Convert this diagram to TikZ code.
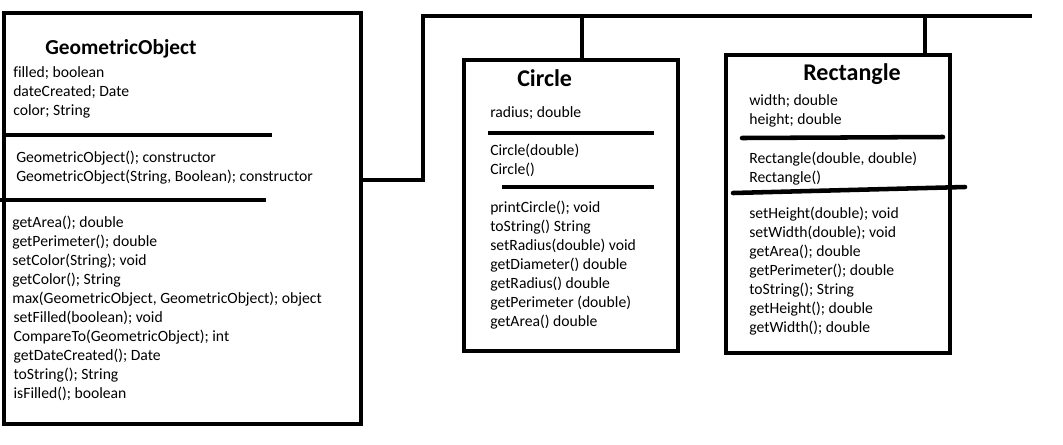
\documentclass[tikz,border=0pt]{standalone}
\usepackage{fontspec}
\setmainfont{Carlito}[Ligatures=CommonOff]
\usetikzlibrary{fit}
\tikzset{
  box/.style={draw, line width=3.4pt, inner sep=0pt},
  sepline/.style={line width=3.4pt},
  roundsep/.style={line width=3.4pt, line cap=round},
  conn/.style={line width=3.4pt},
  txt/.style={anchor=base west, inner sep=0pt, font=\fontsize{11.75}{14.25}\selectfont},
  ttl/.style={anchor=base west, inner sep=0pt, font=\fontsize{#1}{#1}\selectfont\bfseries},
}
\newcommand{\lines}[1]{\begin{tabular}[t]{@{}l@{}}#1\end{tabular}}
\begin{document}
\begin{tikzpicture}[x=0.75pt,y=-0.75pt]
\useasboundingbox (0,0) rectangle (1063,444);
% boxes
\coordinate (go-nw) at (4,13);   \coordinate (go-se) at (361,424);
\coordinate (ci-nw) at (464,60); \coordinate (ci-se) at (678,351);
\coordinate (re-nw) at (726,55); \coordinate (re-se) at (950,353);
\node[box, fit=(go-nw)(go-se)] (go) {};
\node[box, fit=(ci-nw)(ci-se)] (circ) {};
\node[box, fit=(re-nw)(re-se)] (rect) {};
% GeometricObject
\node[ttl=16] (gotitle) at (45,54) {GeometricObject};
\node[txt] (goattr) at (13,77) {\lines{filled; boolean\\dateCreated; Date\\color; String}};
\draw[sepline] (6,135) -- (272,135);
\node[txt] (gocons) at (16,162) {\lines{GeometricObject(); constructor\\GeometricObject(String, Boolean); constructor}};
\draw[sepline] (0,200) -- (266,200);
\node[txt] (gometh) at (12,227) {\lines{getArea(); double\\getPerimeter(); double\\setColor(String); void\\getColor(); String\\max(GeometricObject, GeometricObject); object\\\hspace{1pt}setFilled(boolean); void\\\hspace{1pt}CompareTo(GeometricObject); int\\\hspace{1pt}getDateCreated(); Date\\\hspace{1pt}toString(); String\\\hspace{1pt}isFilled(); boolean}};
% Circle
\node[ttl=18] (cititle) at (517,86) {Circle};
\node[txt] (ciattr) at (490,117) {radius; double};
\draw[sepline] (488,133) -- (654,133);
\node[txt] (cicons) at (490,155) {\lines{Circle(double)\\Circle()}};
\draw[sepline] (502,187) -- (654,187);
\node[txt] (cimeth) at (490,212) {\lines{printCircle(); void\\toString() String\\setRadius(double) void\\getDiameter() double\\getRadius() double\\getPerimeter (double)\\getArea() double}};
% Rectangle
\node[ttl=18] (retitle) at (803,80) {Rectangle};
\node[txt] (reattr) at (749,105) {\lines{width; double\\height; double}};
\draw[roundsep] (742,138) -- (943,137);
\node[txt] (recons) at (749,163) {\lines{Rectangle(double, double)\\Rectangle()}};
\draw[roundsep] (733,193) -- (965,187);
\node[txt] (remeth) at (749,218) {\lines{setHeight(double); void\\setWidth(double); void\\getArea(); double\\getPerimeter(); double\\toString(); String\\getHeight(); double\\getWidth(); double}};
% connectors
\coordinate (j1) at (423,180);
\coordinate (j2) at (423,16);
\coordinate (busend) at (1032,16);
\coordinate (cj) at (582,16);
\coordinate (rj) at (925,16);
\draw[conn] (go.east |- j1) -- (j1) -- (j2) -- (busend);
\draw[conn] (cj) -- (cj |- circ.north);
\draw[conn] (rj) -- (rj |- rect.north);
\end{tikzpicture}
\end{document}
